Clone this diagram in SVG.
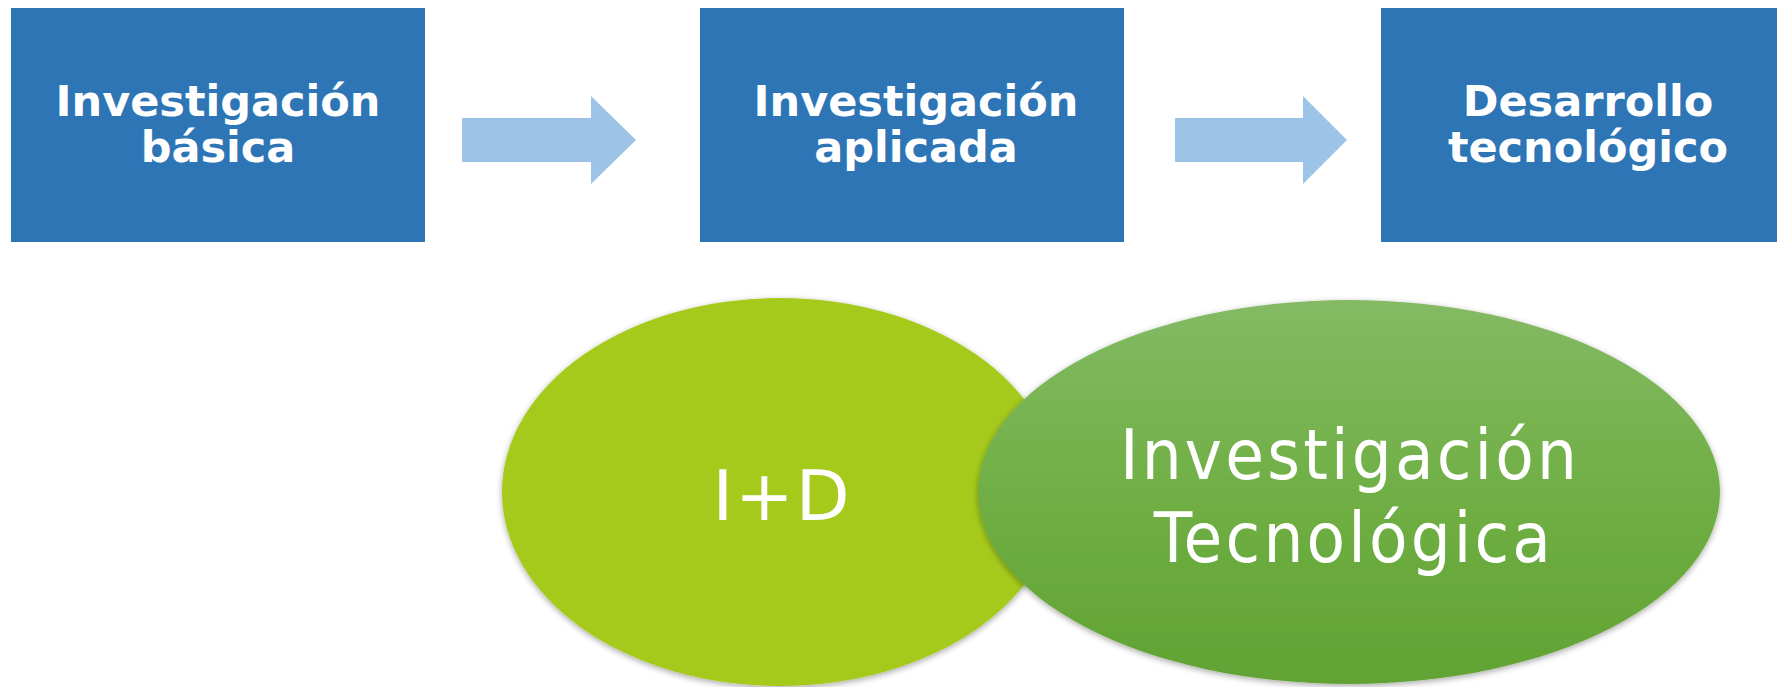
<svg xmlns="http://www.w3.org/2000/svg" width="1777" height="687" viewBox="0 0 1777 687">
<style>
.box{fill:#2E75B6}
.arrow{fill:#9DC3E6}
.bt{font-family:"DejaVu Sans",Verdana,sans-serif;font-weight:bold;font-size:43px;fill:#FFFFFF;text-anchor:middle}
.et{font-family:"DejaVu Sans Condensed","DejaVu Sans",sans-serif;font-size:70px;fill:#FFFFFF;text-anchor:middle;letter-spacing:3.2px}
.id{font-family:"DejaVu Sans",Verdana,sans-serif;font-size:70px;fill:#FFFFFF;text-anchor:middle;letter-spacing:2px}
</style>
<defs>
<linearGradient id="g2" x1="0" y1="0" x2="0" y2="1">
<stop offset="0" stop-color="#84BA64"/>
<stop offset="0.5" stop-color="#70AF45"/>
<stop offset="1" stop-color="#61A333"/>
</linearGradient>
<filter id="sh" x="-10%" y="-10%" width="120%" height="120%">
<feGaussianBlur in="SourceAlpha" stdDeviation="3"/>
<feOffset dx="0" dy="2" result="b"/>
<feComponentTransfer><feFuncA type="linear" slope="0.35"/></feComponentTransfer>
<feMerge><feMergeNode/><feMergeNode in="SourceGraphic"/></feMerge>
</filter>
</defs>
<rect width="1777" height="687" fill="#FFFFFF"/>
<g id="node-basica">
<rect class="box" x="11" y="8" width="414" height="234"/>
<text class="bt" x="218" y="116">Investigación</text>
<text class="bt" x="218" y="162">básica</text>
</g>
<g id="node-aplicada">
<rect class="box" x="700" y="8" width="424" height="234"/>
<text class="bt" x="916" y="116">Investigación</text>
<text class="bt" x="916" y="162">aplicada</text>
</g>
<g id="node-desarrollo">
<rect class="box" x="1381" y="8" width="420" height="234"/>
<text class="bt" x="1588" y="116">Desarrollo</text>
<text class="bt" x="1588" y="162">tecnológico</text>
</g>
<g id="connectors">
<polygon class="arrow" points="462,118 591,118 591,96 636,140 591,184 591,162 462,162"/>
<polygon class="arrow" points="1175,118 1303,118 1303,96 1347,140 1303,184 1303,162 1175,162"/>
</g>
<g id="node-id">
<ellipse cx="780" cy="492" rx="278" ry="194" fill="#A6CA1A" filter="url(#sh)"/>
<text class="id" x="782" y="520">I+D</text>
</g>
<g id="node-invtec">
<ellipse cx="1349" cy="492" rx="371" ry="192" fill="url(#g2)" filter="url(#sh)"/>
<text class="et" x="1350" y="479">Investigación</text>
<text class="et" x="1354" y="562">Tecnológica</text>
</g>
</svg>
